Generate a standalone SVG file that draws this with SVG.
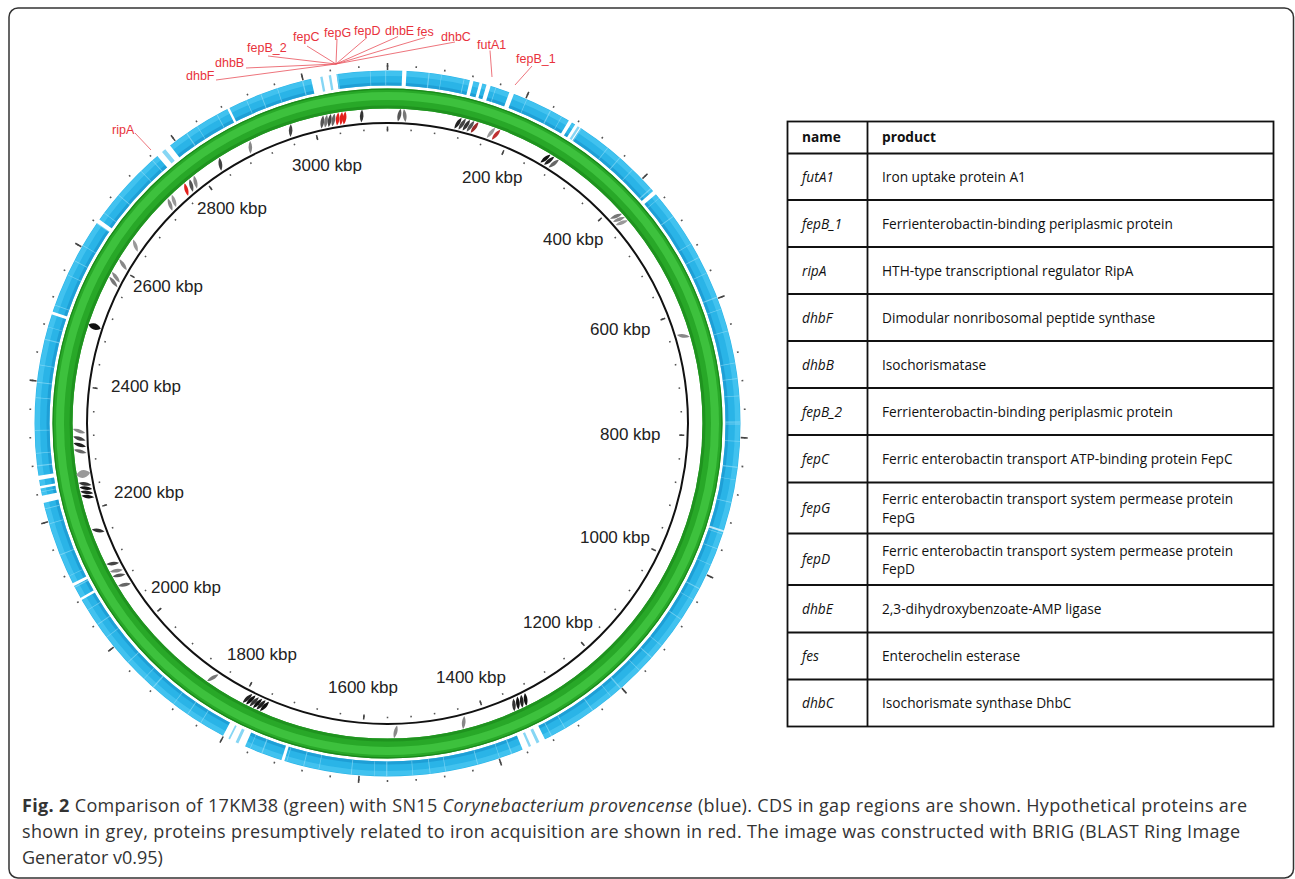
<svg xmlns="http://www.w3.org/2000/svg" xmlns:xlink="http://www.w3.org/1999/xlink" width="1295" height="879" viewBox="0 0 1295 879">
<style>
.ring{fill:none}
.gap{fill:none;stroke:#fff;stroke-width:17.5}
.sl{fill:none;stroke:#86d6f4;stroke-width:15}
.kbp{font-family:"Liberation Sans",Arial,sans-serif;font-size:17px;fill:#222}
.rl{font-family:"Liberation Sans",Arial,sans-serif;font-size:12.5px;fill:#e8323c}
.ld{stroke:#e8505a;stroke-width:0.8;fill:none}
.tb{font-family:"Open Sans","Liberation Sans",sans-serif;font-size:13.7px;fill:#111}
.tbb{font-weight:bold}
.tbi{font-style:italic}
.tl{stroke:#111;stroke-width:1.8;fill:none}
.cap{font-family:"Open Sans","Liberation Sans",sans-serif;font-size:18px;fill:#333}
</style>
<defs>
<path id="cd" d="M0,-6.5 C2.4,-2.4 2.4,2.4 0,6.5 C-2.4,2.4 -2.4,-2.4 0,-6.5Z"/>
</defs>
<rect width="1295" height="879" fill="#fff"/>
<rect id="frame" x="9" y="8" width="1284.5" height="870" rx="9" fill="none" stroke="#333" stroke-width="1.5"/>

<g id="green-ring">
<circle class="ring" cx="387.5" cy="423.5" r="325" stroke="#28a828" stroke-width="20"/>
<circle class="ring" cx="387.5" cy="423.5" r="327.5" stroke="#3fc33f" stroke-width="8" opacity="0.9"/>
<circle class="ring" cx="387.5" cy="423.5" r="316.5" stroke="#1f931f" stroke-width="3"/>
<circle class="ring" cx="387.5" cy="423.5" r="334.4" stroke="#1b881b" stroke-width="1.2"/>
</g>

<g id="blue-ring">
<circle class="ring" cx="387.5" cy="423.5" r="345.5" stroke="#2ab4e7" stroke-width="15"/>
<circle class="ring" cx="387.5" cy="423.5" r="339.5" stroke="#1c9ad2" stroke-width="3" opacity="0.8"/>
<circle class="ring" cx="387.5" cy="423.5" r="350" stroke="#47c5f1" stroke-width="5" opacity="0.8"/>
<circle class="ring" cx="387.5" cy="423.5" r="345.5" stroke="#a5e3f9" stroke-width="15" opacity="0.55" pathLength="360" stroke-dasharray="0.15 2.7 0.12 4.1 0.2 1.9 0.1 3.6 0.15 5.2 0.12 2.4"/>
<g transform="rotate(-90 387.5 423.5)">
<circle class="gap" cx="387.5" cy="423.5" r="345.5" pathLength="360" stroke-dasharray="4.2 360" transform="rotate(347.5 387.5 423.5)"/>
<circle class="gap" cx="387.5" cy="423.5" r="345.5" pathLength="360" stroke-dasharray="0.7 360" transform="rotate(2.4 387.5 423.5)"/>
<circle class="gap" cx="387.5" cy="423.5" r="345.5" pathLength="360" stroke-dasharray="0.6 360" transform="rotate(13.5 387.5 423.5)"/>
<circle class="gap" cx="387.5" cy="423.5" r="345.5" pathLength="360" stroke-dasharray="0.5 360" transform="rotate(15.1 387.5 423.5)"/>
<circle class="gap" cx="387.5" cy="423.5" r="345.5" pathLength="360" stroke-dasharray="0.7 360" transform="rotate(16.3 387.5 423.5)"/>
<circle class="gap" cx="387.5" cy="423.5" r="345.5" pathLength="360" stroke-dasharray="0.8 360" transform="rotate(20.2 387.5 423.5)"/>
<circle class="gap" cx="387.5" cy="423.5" r="345.5" pathLength="360" stroke-dasharray="0.6 360" transform="rotate(30.9 387.5 423.5)"/>
<circle class="gap" cx="387.5" cy="423.5" r="345.5" pathLength="360" stroke-dasharray="1.1 360" transform="rotate(32.1 387.5 423.5)"/>
<circle class="gap" cx="387.5" cy="423.5" r="345.5" pathLength="360" stroke-dasharray="0.7 360" transform="rotate(48.8 387.5 423.5)"/>
<circle class="gap" cx="387.5" cy="423.5" r="345.5" pathLength="360" stroke-dasharray="0.35 360" transform="rotate(107.6 387.5 423.5)" opacity="0.7"/>
<circle class="gap" cx="387.5" cy="423.5" r="345.5" pathLength="360" stroke-dasharray="4 360" transform="rotate(153.5 387.5 423.5)"/>
<circle class="gap" cx="387.5" cy="423.5" r="345.5" pathLength="360" stroke-dasharray="0.5 360" transform="rotate(197 387.5 423.5)"/>
<circle class="gap" cx="387.5" cy="423.5" r="345.5" pathLength="360" stroke-dasharray="4 360" transform="rotate(203.8 387.5 423.5)"/>
<circle class="gap" cx="387.5" cy="423.5" r="345.5" pathLength="360" stroke-dasharray="0.4 360" transform="rotate(240 387.5 423.5)"/>
<circle class="gap" cx="387.5" cy="423.5" r="345.5" pathLength="360" stroke-dasharray="0.5 360" transform="rotate(242.6 387.5 423.5)"/>
<circle class="gap" cx="387.5" cy="423.5" r="345.5" pathLength="360" stroke-dasharray="1.2 360" transform="rotate(257 387.5 423.5)"/>
<circle class="gap" cx="387.5" cy="423.5" r="345.5" pathLength="360" stroke-dasharray="0.4 360" transform="rotate(259.4 387.5 423.5)"/>
<circle class="gap" cx="387.5" cy="423.5" r="345.5" pathLength="360" stroke-dasharray="0.7 360" transform="rotate(260.8 387.5 423.5)"/>
<circle class="gap" cx="387.5" cy="423.5" r="345.5" pathLength="360" stroke-dasharray="0.5 360" transform="rotate(288 387.5 423.5)"/>
<circle class="gap" cx="387.5" cy="423.5" r="345.5" pathLength="360" stroke-dasharray="0.7 360" transform="rotate(304.6 387.5 423.5)"/>
<circle class="gap" cx="387.5" cy="423.5" r="345.5" pathLength="360" stroke-dasharray="2.7 360" transform="rotate(319.3 387.5 423.5)"/>
<circle class="gap" cx="387.5" cy="423.5" r="345.5" pathLength="360" stroke-dasharray="0.4 360" transform="rotate(333 387.5 423.5)"/>
<circle class="sl" cx="387.5" cy="423.5" r="345.5" pathLength="360" stroke-dasharray="0.4 360" transform="rotate(349 387.5 423.5)"/>
<circle class="sl" cx="387.5" cy="423.5" r="345.5" pathLength="360" stroke-dasharray="0.4 360" transform="rotate(350.4 387.5 423.5)"/>
<circle class="sl" cx="387.5" cy="423.5" r="345.5" pathLength="360" stroke-dasharray="0.4 360" transform="rotate(32.6 387.5 423.5)"/>
<circle class="sl" cx="387.5" cy="423.5" r="345.5" pathLength="360" stroke-dasharray="0.5 360" transform="rotate(154.5 387.5 423.5)"/>
<circle class="sl" cx="387.5" cy="423.5" r="345.5" pathLength="360" stroke-dasharray="0.4 360" transform="rotate(156 387.5 423.5)"/>
<circle class="sl" cx="387.5" cy="423.5" r="345.5" pathLength="360" stroke-dasharray="0.5 360" transform="rotate(205 387.5 423.5)"/>
<circle class="sl" cx="387.5" cy="423.5" r="345.5" pathLength="360" stroke-dasharray="0.3 360" transform="rotate(206.5 387.5 423.5)"/>
<circle class="sl" cx="387.5" cy="423.5" r="345.5" pathLength="360" stroke-dasharray="0.7 360" transform="rotate(320.3 387.5 423.5)"/>
</g>
</g>

<g id="backbone">
<circle class="ring" cx="387.5" cy="423.5" r="300.5" stroke="#111" stroke-width="2"/>
<circle class="ring" cx="387.5" cy="423.5" r="294" stroke="#555" stroke-width="1.6" pathLength="360" stroke-dasharray="0.3 4.3154" transform="rotate(-90.15 387.5 423.5)"/>
<circle class="ring" cx="387.5" cy="423.5" r="294.5" stroke="#444" stroke-width="5" pathLength="360" stroke-dasharray="0.3 22.7769" transform="rotate(-90.15 387.5 423.5)"/>
<circle class="ring" cx="387.5" cy="423.5" r="357.5" stroke="#555" stroke-width="1.8" pathLength="360" stroke-dasharray="0.25 4.3654" transform="rotate(-90.12 387.5 423.5)"/>
<circle class="ring" cx="387.5" cy="423.5" r="357" stroke="#444" stroke-width="7" pathLength="360" stroke-dasharray="0.25 22.8269" transform="rotate(-90.12 387.5 423.5)"/>
</g>

<g id="cds">
<g fill="#555">
<use xlink:href="#cd" transform="rotate(-12.2 387.5 423.5) translate(387.5 115) rotate(20)" fill="#555"/>
<use xlink:href="#cd" transform="rotate(-11.5 387.5 423.5) translate(387.5 115) rotate(20)" fill="#777"/>
<use xlink:href="#cd" transform="rotate(-10.8 387.5 423.5) translate(387.5 115) rotate(20)" fill="#444"/>
<use xlink:href="#cd" transform="rotate(-10.1 387.5 423.5) translate(387.5 115) rotate(20)" fill="#666"/>
<use xlink:href="#cd" transform="rotate(-9.3 387.5 423.5) translate(387.5 115) rotate(15)" fill="#e3201c"/>
<use xlink:href="#cd" transform="rotate(-8.6 387.5 423.5) translate(387.5 115) rotate(15)" fill="#e3201c"/>
<use xlink:href="#cd" transform="rotate(-8.0 387.5 423.5) translate(387.5 115) rotate(15)" fill="#e3201c"/>
<use xlink:href="#cd" transform="rotate(-4.8 387.5 423.5) translate(387.5 115) rotate(8)" fill="#333"/>
<use xlink:href="#cd" transform="rotate(2.2 387.5 423.5) translate(387.5 115) rotate(10)" fill="#555"/>
<use xlink:href="#cd" transform="rotate(3.2 387.5 423.5) translate(387.5 115) rotate(-10)" fill="#777"/>
<use xlink:href="#cd" transform="rotate(13.2 387.5 423.5) translate(387.5 115) rotate(20)" fill="#222"/>
<use xlink:href="#cd" transform="rotate(14.0 387.5 423.5) translate(387.5 115) rotate(20)" fill="#444"/>
<use xlink:href="#cd" transform="rotate(14.8 387.5 423.5) translate(387.5 115) rotate(20)" fill="#333"/>
<use xlink:href="#cd" transform="rotate(15.6 387.5 423.5) translate(387.5 115) rotate(20)" fill="#555"/>
<use xlink:href="#cd" transform="rotate(16.4 387.5 423.5) translate(387.5 115) rotate(20)" fill="#9a2a2a"/>
<use xlink:href="#cd" transform="rotate(19.6 387.5 423.5) translate(387.5 115) rotate(20)" fill="#999"/>
<use xlink:href="#cd" transform="rotate(20.6 387.5 423.5) translate(387.5 115) rotate(20)" fill="#c03030"/>
<use xlink:href="#cd" transform="rotate(30.8 387.5 423.5) translate(387.5 115) rotate(20)" fill="#111"/>
<use xlink:href="#cd" transform="rotate(31.6 387.5 423.5) translate(387.5 115) rotate(20)" fill="#222"/>
<use xlink:href="#cd" transform="rotate(32.6 387.5 423.5) translate(387.5 115) rotate(20)" fill="#666"/>
<use xlink:href="#cd" transform="rotate(47.8 387.5 423.5) translate(387.5 115) rotate(20)" fill="#777"/>
<use xlink:href="#cd" transform="rotate(48.6 387.5 423.5) translate(387.5 115) rotate(20)" fill="#888"/>
<use xlink:href="#cd" transform="rotate(49.4 387.5 423.5) translate(387.5 115) rotate(20)" fill="#999"/>
<use xlink:href="#cd" transform="rotate(73.5 387.5 423.5) translate(387.5 115) rotate(25)" fill="#888"/>
<use xlink:href="#cd" transform="rotate(153.4 387.5 423.5) translate(387.5 115) rotate(20)" fill="#111"/>
<use xlink:href="#cd" transform="rotate(154.2 387.5 423.5) translate(387.5 115) rotate(20)" fill="#222"/>
<use xlink:href="#cd" transform="rotate(155.0 387.5 423.5) translate(387.5 115) rotate(20)" fill="#111"/>
<use xlink:href="#cd" transform="rotate(155.8 387.5 423.5) translate(387.5 115) rotate(20)" fill="#333"/>
<use xlink:href="#cd" transform="rotate(165.7 387.5 423.5) translate(387.5 115) rotate(20)" fill="#888"/>
<use xlink:href="#cd" transform="rotate(178.5 387.5 423.5) translate(387.5 115) rotate(15)" fill="#888"/>
<use xlink:href="#cd" transform="rotate(203.5 387.5 423.5) translate(387.5 115) rotate(20)" fill="#111"/>
<use xlink:href="#cd" transform="rotate(204.2 387.5 423.5) translate(387.5 115) rotate(20)" fill="#222"/>
<use xlink:href="#cd" transform="rotate(204.9 387.5 423.5) translate(387.5 115) rotate(20)" fill="#111"/>
<use xlink:href="#cd" transform="rotate(205.6 387.5 423.5) translate(387.5 115) rotate(20)" fill="#333"/>
<use xlink:href="#cd" transform="rotate(206.3 387.5 423.5) translate(387.5 115) rotate(20)" fill="#111"/>
<use xlink:href="#cd" transform="rotate(207.0 387.5 423.5) translate(387.5 115) rotate(20)" fill="#222"/>
<use xlink:href="#cd" transform="rotate(214.5 387.5 423.5) translate(387.5 115) rotate(25)" fill="#777"/>
<use xlink:href="#cd" transform="rotate(238.5 387.5 423.5) translate(387.5 115) rotate(20)" fill="#666"/>
<use xlink:href="#cd" transform="rotate(240.5 387.5 423.5) translate(387.5 115) rotate(20)" fill="#555"/>
<use xlink:href="#cd" transform="rotate(241.5 387.5 423.5) translate(387.5 115) rotate(20)" fill="#888"/>
<use xlink:href="#cd" transform="rotate(243 387.5 423.5) translate(387.5 115) rotate(20)" fill="#444"/>
<use xlink:href="#cd" transform="rotate(249.7 387.5 423.5) translate(387.5 115) rotate(30)" fill="#333"/>
<use xlink:href="#cd" transform="rotate(256.3 387.5 423.5) translate(387.5 115) rotate(20)" fill="#111"/>
<use xlink:href="#cd" transform="rotate(257.1 387.5 423.5) translate(387.5 115) rotate(20)" fill="#222"/>
<use xlink:href="#cd" transform="rotate(257.9 387.5 423.5) translate(387.5 115) rotate(20)" fill="#111"/>
<use xlink:href="#cd" transform="rotate(258.7 387.5 423.5) translate(387.5 115) rotate(20)" fill="#333"/>
<use xlink:href="#cd" transform="rotate(260.6 387.5 423.5) translate(387.5 115) scale(2.2 1.1)" fill="#999"/>
<use xlink:href="#cd" transform="rotate(264.8 387.5 423.5) translate(387.5 115) rotate(20)" fill="#666"/>
<use xlink:href="#cd" transform="rotate(266 387.5 423.5) translate(387.5 115) rotate(20)" fill="#222"/>
<use xlink:href="#cd" transform="rotate(267.2 387.5 423.5) translate(387.5 115) rotate(20)" fill="#444"/>
<use xlink:href="#cd" transform="rotate(268.6 387.5 423.5) translate(387.5 115) rotate(20)" fill="#888"/>
<use xlink:href="#cd" transform="rotate(288.3 387.5 423.5) translate(387.5 115) scale(1.8 1)" fill="#111"/>
<use xlink:href="#cd" transform="rotate(297.3 387.5 423.5) translate(387.5 115) rotate(25)" fill="#777"/>
<use xlink:href="#cd" transform="rotate(298.3 387.5 423.5) translate(387.5 115) rotate(25)" fill="#888"/>
<use xlink:href="#cd" transform="rotate(301 387.5 423.5) translate(387.5 115) rotate(25)" fill="#888"/>
<use xlink:href="#cd" transform="rotate(305.2 387.5 423.5) translate(387.5 115) rotate(35)" fill="#999"/>
<use xlink:href="#cd" transform="rotate(315.2 387.5 423.5) translate(387.5 115) rotate(25)" fill="#888"/>
<use xlink:href="#cd" transform="rotate(316.2 387.5 423.5) translate(387.5 115) rotate(25)" fill="#999"/>
<use xlink:href="#cd" transform="rotate(319.3 387.5 423.5) translate(387.5 115) rotate(25)" fill="#e3201c"/>
<use xlink:href="#cd" transform="rotate(320.5 387.5 423.5) translate(387.5 115) rotate(25)" fill="#555"/>
<use xlink:href="#cd" transform="rotate(321.5 387.5 423.5) translate(387.5 115) rotate(25)" fill="#888"/>
<use xlink:href="#cd" transform="rotate(327.2 387.5 423.5) translate(387.5 115) rotate(25)" fill="#444"/>
<use xlink:href="#cd" transform="rotate(333.6 387.5 423.5) translate(387.5 115) rotate(25)" fill="#888"/>
<use xlink:href="#cd" transform="rotate(341.7 387.5 423.5) translate(387.5 115) rotate(20)" fill="#444"/>
</g>
</g>

<g id="kbp-labels" class="kbp">
<text x="292" y="171">3000 kbp</text>
<text x="462" y="183">200 kbp</text>
<text x="543" y="245">400 kbp</text>
<text x="590" y="335">600 kbp</text>
<text x="600" y="440">800 kbp</text>
<text x="580" y="543">1000 kbp</text>
<text x="523" y="628">1200 kbp</text>
<text x="436" y="683">1400 kbp</text>
<text x="328" y="693">1600 kbp</text>
<text x="227" y="660">1800 kbp</text>
<text x="151" y="593">2000 kbp</text>
<text x="114" y="498">2200 kbp</text>
<text x="111" y="392">2400 kbp</text>
<text x="133" y="292">2600 kbp</text>
<text x="197" y="214">2800 kbp</text>
</g>

<g id="connectors" class="ld">
<line x1="216" y1="80" x2="336" y2="64"/>
<line x1="246" y1="68" x2="336" y2="64"/>
<line x1="268" y1="56" x2="336" y2="64"/>
<line x1="307" y1="46" x2="336" y2="64"/>
<line x1="337" y1="39" x2="336" y2="64"/>
<line x1="367" y1="37.5" x2="336" y2="64"/>
<line x1="398" y1="36.5" x2="336" y2="64"/>
<line x1="425" y1="37.5" x2="336" y2="64"/>
<line x1="455" y1="42" x2="336" y2="64"/>
<line x1="490" y1="50.5" x2="492" y2="77"/>
<line x1="532" y1="66" x2="515" y2="85"/>
<line x1="135" y1="133" x2="151" y2="150"/>
</g>

<g id="gene-labels" class="rl">
<text id="lbl-dhbF" x="186" y="80">dhbF</text>
<text id="lbl-dhbB" x="215" y="66.5">dhbB</text>
<text id="lbl-fepB_2" x="247" y="52">fepB_2</text>
<text id="lbl-fepC" x="293" y="40.5">fepC</text>
<text id="lbl-fepG" x="324" y="37">fepG</text>
<text id="lbl-fepD" x="354" y="34.8">fepD</text>
<text id="lbl-dhbE" x="385" y="35">dhbE</text>
<text id="lbl-fes" x="417" y="35.5">fes</text>
<text id="lbl-dhbC" x="441" y="40.5">dhbC</text>
<text id="lbl-futA1" x="477" y="49">futA1</text>
<text id="lbl-fepB_1" x="516" y="63">fepB_1</text>
<text id="lbl-ripA" x="112" y="133.8">ripA</text>
</g>

<g id="table">
<rect class="tl" x="787.5" y="121.5" width="486" height="605"/>
<line class="tl" x1="867.5" y1="121.5" x2="867.5" y2="726.5"/>
<path class="tl" d="M787.5 153.5H1273.5M787.5 200H1273.5M787.5 247H1273.5M787.5 294H1273.5M787.5 341H1273.5M787.5 388H1273.5M787.5 435H1273.5M787.5 482.5H1273.5M787.5 533.5H1273.5M787.5 585H1273.5M787.5 632.5H1273.5M787.5 679.5H1273.5"/>
<g class="tb">
<text class="tbb" x="802" y="142">name</text>
<text class="tbb" x="882" y="142">product</text>
<text class="tbi" x="802" y="181.5">futA1</text>
<text x="882" y="181.5">Iron uptake protein A1</text>
<text class="tbi" x="802" y="228.5">fepB_1</text>
<text x="882" y="228.5">Ferrienterobactin-binding periplasmic protein</text>
<text class="tbi" x="802" y="275.5">ripA</text>
<text x="882" y="275.5">HTH-type transcriptional regulator RipA</text>
<text class="tbi" x="802" y="322.5">dhbF</text>
<text x="882" y="322.5">Dimodular nonribosomal peptide synthase</text>
<text class="tbi" x="802" y="369.5">dhbB</text>
<text x="882" y="369.5">Isochorismatase</text>
<text class="tbi" x="802" y="416.5">fepB_2</text>
<text x="882" y="416.5">Ferrienterobactin-binding periplasmic protein</text>
<text class="tbi" x="802" y="463.5">fepC</text>
<text x="882" y="463.5">Ferric enterobactin transport ATP-binding protein FepC</text>
<text class="tbi" x="802" y="512.5">fepG</text>
<text x="882" y="504">Ferric enterobactin transport system permease protein</text>
<text x="882" y="522.5">FepG</text>
<text class="tbi" x="802" y="564">fepD</text>
<text x="882" y="555.5">Ferric enterobactin transport system permease protein</text>
<text x="882" y="574">FepD</text>
<text class="tbi" x="802" y="613.5">dhbE</text>
<text x="882" y="613.5">2,3-dihydroxybenzoate-AMP ligase</text>
<text class="tbi" x="802" y="660.5">fes</text>
<text x="882" y="660.5">Enterochelin esterase</text>
<text class="tbi" x="802" y="707.5">dhbC</text>
<text x="882" y="707.5">Isochorismate synthase DhbC</text>
</g>
</g>

<g id="caption" class="cap">
<text x="22" y="812" textLength="1225" lengthAdjust="spacing"><tspan font-weight="bold">Fig. 2</tspan> Comparison of 17KM38 (green) with SN15 <tspan font-style="italic">Corynebacterium provencense</tspan> (blue). CDS in gap regions are shown. Hypothetical proteins are</text>
<text x="22" y="838" textLength="1218" lengthAdjust="spacing">shown in grey, proteins presumptively related to iron acquisition are shown in red. The image was constructed with BRIG (BLAST Ring Image</text>
<text x="22" y="864">Generator v0.95)</text>
</g>
</svg>
